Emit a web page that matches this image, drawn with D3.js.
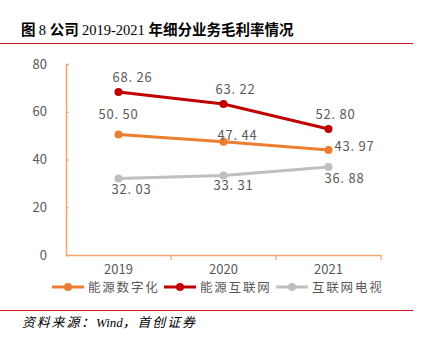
<!DOCTYPE html>
<html>
<head>
<meta charset="utf-8">
<script src="https://cdn.jsdelivr.net/npm/d3@7"></script>
<style>
  body { margin: 0; background: #fff; }
  svg { display: block; }
</style>
</head>
<body>
<script>
// chart data
var years = ["2019", "2020", "2021"];
var seriesNames = ["能源数字化", "能源互联网", "互联网电视"];
var energyDigital = [50.50, 47.44, 43.97];
var energyInternet = [68.26, 63.22, 52.80];
var internetTv = [32.03, 33.31, 36.88];
var yTicks = [0, 20, 40, 60, 80];

var colors = ["#ED7D31", "#C00000", "#BFBFBF"];
// label offsets [dx, dy] for each series, per point
var labelOffsets = [
  [[0, -15], [14, -2], [26, 1]],
  [[14, -10], [12, -10], [7, -10]],
  [[13, 15], [10, 15], [16, 16]]
];

var width = 422, height = 339;
var margin = {left: 66, right: 41, top: 64, bottom: 84};

var svg = d3.select("body").append("svg")
  .attr("width", width)
  .attr("height", height);

// title: cjk in bold sans, digits in serif
var title = svg.append("text")
  .attr("x", 21).attr("y", 35)
  .attr("font-size", 14.5)
  .attr("fill", "#000");
[["图 ", 1], ["8 ", 0], ["公司 ", 1], ["2019-2021 ", 0], ["年细分业务毛利率情况", 1]].forEach(function(p){
  title.append("tspan")
    .attr("font-family", p[1] ? "'Noto Sans CJK SC', sans-serif" : "'Liberation Serif', serif")
    .attr("font-weight", p[1] ? 700 : 400)
    .text(p[0]);
});

svg.append("line")
  .attr("x1", 0).attr("x2", 413).attr("y1", 43.5).attr("y2", 43.5)
  .attr("stroke", "#C8161D").attr("stroke-width", 1);

var x = d3.scaleBand()
  .domain(years)
  .range([margin.left, width - margin.right]);

var y = d3.scaleLinear()
  .domain([0, 80])
  .range([height - margin.bottom, margin.top]);

var axisColor = "#F4A46F";
var textColor = "#595959";

// y axis
var yAxis = svg.append("g")
  .attr("transform", "translate(" + margin.left + ",0)")
  .call(d3.axisLeft(y).tickValues(yTicks).tickSize(-3).tickPadding(19));
yAxis.select(".domain").attr("stroke", axisColor).attr("stroke-width", 1.5);
yAxis.selectAll(".tick line").attr("stroke", axisColor);
yAxis.selectAll(".tick text")
  .attr("fill", textColor)
  .attr("font-size", 13)
  .attr("font-family", "'Noto Sans CJK SC', sans-serif");

// x axis
var xAxis = svg.append("g")
  .attr("transform", "translate(0," + y(0) + ")")
  .call(d3.axisBottom(x).tickSizeOuter(0).tickSize(0).tickPadding(10));
xAxis.select(".domain").attr("stroke", axisColor).attr("stroke-width", 1.5);
xAxis.selectAll(".tick text")
  .attr("fill", textColor)
  .attr("font-size", 13)
  .attr("font-family", "'Noto Sans CJK SC', sans-serif");
// boundary ticks between categories
xAxis.selectAll(".sep")
  .data(years)
  .enter().append("line")
  .attr("x1", function(d){ return x(d) + x.bandwidth(); })
  .attr("x2", function(d){ return x(d) + x.bandwidth(); })
  .attr("y1", 0).attr("y2", 5)
  .attr("stroke", axisColor).attr("stroke-width", 1.2);

var allSeries = [energyDigital, energyInternet, internetTv];
var cx = function(i){ return x(years[i]) + x.bandwidth() / 2; };

var line = d3.line()
  .x(function(d, i){ return cx(i); })
  .y(function(d){ return y(d); });

// draw gray first, then orange, then red on top
[2, 0, 1].forEach(function(s){
  var vals = allSeries[s];
  var g = svg.append("g");
  g.append("path")
    .datum(vals)
    .attr("fill", "none")
    .attr("stroke", colors[s])
    .attr("stroke-width", 3)
    .attr("d", line);
  g.selectAll("circle")
    .data(vals)
    .enter().append("circle")
    .attr("cx", function(d, i){ return cx(i); })
    .attr("cy", function(d){ return y(d); })
    .attr("r", 4)
    .attr("fill", colors[s]);
  g.selectAll("text")
    .data(vals)
    .enter().append("text")
    .attr("x", function(d, i){ return cx(i) + labelOffsets[s][i][0]; })
    .attr("y", function(d, i){ return y(d) + labelOffsets[s][i][1]; })
    .attr("text-anchor", "middle")
    .attr("font-size", 13)
    .attr("font-family", "'Noto Sans CJK SC', sans-serif")
    .attr("letter-spacing", 0.8)
    .attr("fill", textColor)
    .text(function(d){ return d3.format(".2f")(d).replace(".", ". "); });
});

// legend
var legendX = [52, 164, 276];
var legend = svg.append("g");
seriesNames.forEach(function(name, i){
  var lg = legend.append("g").attr("transform", "translate(" + legendX[i] + ",287)");
  lg.append("line").attr("x1", 0).attr("x2", 32).attr("y1", 0).attr("y2", 0)
    .attr("stroke", colors[i]).attr("stroke-width", 3);
  lg.append("circle").attr("cx", 16).attr("cy", 0).attr("r", 4).attr("fill", colors[i]);
  lg.append("text")
    .attr("x", 36).attr("y", 4.5)
    .attr("font-size", 12.5)
    .attr("letter-spacing", 1.8)
    .attr("font-family", "'Noto Sans CJK SC', sans-serif")
    .attr("fill", textColor)
    .text(name);
});

// bottom rule and source
svg.append("line")
  .attr("x1", 0).attr("x2", 413).attr("y1", 310.5).attr("y2", 310.5)
  .attr("stroke", "#C8161D").attr("stroke-width", 1);

var source = svg.append("text")
  .attr("x", 22).attr("y", 327)
  .attr("font-family", "'Liberation Serif', 'Noto Sans CJK SC', serif")
  .attr("font-style", "italic")
  .attr("font-size", 13)
  .attr("fill", "#000");
[["资料来源：", 1.8], ["Wind", 0], ["，首创证券", 1.8]].forEach(function(p){
  source.append("tspan").attr("letter-spacing", p[1]).text(p[0]);
});
</script>
</body>
</html>
